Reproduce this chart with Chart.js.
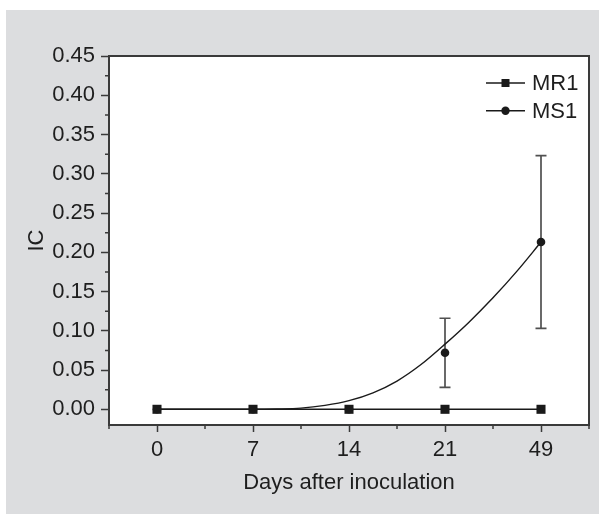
<!DOCTYPE html>
<html>
<head>
<meta charset="utf-8">
<title>IC after inoculation</title>
<script src="https://cdn.jsdelivr.net/npm/chart.js@4.4.1/dist/chart.umd.min.js"></script>
<style>
  html, body { margin: 0; padding: 0; background: #fff; }
  #wrap { width: 599px; height: 514px; position: relative; }
</style>
</head>
<body>
<div id="wrap"><canvas id="icChart"></canvas></div>
<script>
// values
const days = ['0', '7', '14', '21', '49'];
const yTicks = [0, 0.05, 0.10, 0.15, 0.20, 0.25, 0.30, 0.35, 0.40, 0.45];
const mr1 = [0, 0, 0, 0, 0];
const ms1 = [0, 0, 0, 0.072, 0.213];
const ms1Err = [0, 0, 0, 0.044, 0.110];
// fitted curve through MS1 (x = position on the day axis)
const fitX = [0, 1, 1.25, 1.5, 1.75, 2, 2.25, 2.5, 2.75, 3, 3.25, 3.5, 3.75, 4];
const fitY = [0, 0, 0.0004, 0.0015, 0.005, 0.011, 0.021, 0.036, 0.057, 0.083, 0.111, 0.142, 0.176, 0.213];

const FONT = "'Liberation Sans', Arial, Helvetica, sans-serif";
const FONT_SIZE = 22;
const axisColor = '#3a3a3a';
const textColor = '#1e1e1e';
const markColor = '#1a1a1a';

const framePlugin = {
  id: 'frame',
  beforeDraw(chart) {
    const {ctx, chartArea: a, width, height} = chart;
    ctx.save();
    ctx.fillStyle = '#fff';
    ctx.fillRect(0, 0, width, height);
    ctx.fillStyle = '#dcdddf';
    ctx.fillRect(6, 10, width - 6, height - 10);
    ctx.fillStyle = '#fff';
    ctx.fillRect(a.left, a.top, a.right - a.left, a.bottom - a.top);
    ctx.restore();
  },
  beforeDatasetsDraw(chart) {
    // error bars for MS1
    const {ctx} = chart;
    const xs = chart.scales.x, ys = chart.scales.y;
    ctx.save();
    ctx.strokeStyle = '#505050';
    ctx.lineWidth = 1.7;
    ms1.forEach((v, i) => {
      if (!ms1Err[i]) return;
      const x = xs.getPixelForValue(i);
      const yt = ys.getPixelForValue(v + ms1Err[i]);
      const yb = ys.getPixelForValue(v - ms1Err[i]);
      ctx.beginPath();
      ctx.moveTo(x, yt); ctx.lineTo(x, yb);
      ctx.moveTo(x - 5.5, yt); ctx.lineTo(x + 5.5, yt);
      ctx.moveTo(x - 5.5, yb); ctx.lineTo(x + 5.5, yb);
      ctx.stroke();
    });
    ctx.restore();
  },
  afterDraw(chart) {
    const {ctx, chartArea: a} = chart;
    const xs = chart.scales.x, ys = chart.scales.y;
    ctx.save();
    // frame
    ctx.strokeStyle = axisColor;
    ctx.lineWidth = 2;
    ctx.strokeRect(a.left, a.top, a.right - a.left, a.bottom - a.top);
    // minor ticks
    ctx.lineWidth = 1.5;
    ctx.beginPath();
    for (let i = 0; i <= days.length; i++) {
      const x = xs.getPixelForValue(i - 0.5);
      ctx.moveTo(x, a.bottom); ctx.lineTo(x, a.bottom + 4);
    }
    for (let i = 0; i < yTicks.length - 1; i++) {
      const y = ys.getPixelForValue((yTicks[i] + yTicks[i + 1]) / 2);
      ctx.moveTo(a.left, y); ctx.lineTo(a.left - 4, y);
    }
    ctx.stroke();
    // legend
    ctx.font = FONT_SIZE + 'px ' + FONT;
    ctx.textBaseline = 'middle';
    ctx.textAlign = 'left';
    chart.data.datasets.slice(0, 2).forEach((ds, i) => {
      const y = a.top + 27 + i * 27.7;
      const x0 = a.right - 103, x1 = a.right - 64, xm = (x0 + x1) / 2;
      ctx.strokeStyle = markColor;
      ctx.lineWidth = 1.5;
      ctx.beginPath(); ctx.moveTo(x0, y); ctx.lineTo(x1, y); ctx.stroke();
      ctx.fillStyle = markColor;
      if (ds.pointStyle === 'rect') {
        ctx.fillRect(xm - 4, y - 4, 8, 8);
      } else {
        ctx.beginPath(); ctx.arc(xm, y, 4.2, 0, Math.PI * 2); ctx.fill();
      }
      ctx.fillStyle = textColor;
      ctx.fillText(ds.label, a.right - 57, y + 1);
    });
    ctx.restore();
  }
};

const ctx = document.getElementById('icChart').getContext('2d');
new Chart(ctx, {
  type: 'line',
  data: {
    datasets: [
      { label: 'MR1', data: mr1.map((v, i) => ({x: i, y: v})), borderColor: markColor, borderWidth: 1.6,
        pointStyle: 'rect', pointRadius: 6.4, pointBackgroundColor: markColor, pointBorderWidth: 0, tension: 0 },
      { label: 'MS1', data: ms1.map((v, i) => ({x: i, y: v})), showLine: false, borderColor: markColor,
        pointStyle: 'circle', pointRadius: 4.3, pointBackgroundColor: markColor, pointBorderWidth: 0 },
      { label: 'MS1 fit', data: fitX.map((x, i) => ({x: x, y: fitY[i]})), borderColor: markColor, borderWidth: 1.4,
        pointRadius: 0, cubicInterpolationMode: 'monotone' }
    ]
  },
  options: {
    responsive: true,
    maintainAspectRatio: false,
    animation: false,
    layout: { padding: { top: 56, right: 10, left: 0, bottom: 0 } },
    plugins: { legend: { display: false }, tooltip: { enabled: false } },
    scales: {
      x: {
        type: 'linear', min: -0.5, max: 4.5,
        afterBuildTicks: s => { s.ticks = days.map((d, i) => ({value: i})); },
        afterFit: s => { s.height = 89; },
        ticks: { callback: v => days[v], font: {family: FONT, size: FONT_SIZE}, color: textColor, padding: 5, maxRotation: 0 },
        grid: { drawOnChartArea: false, tickLength: 7, tickColor: axisColor, tickWidth: 1.5 },
        border: { display: false },
        title: { display: true, text: 'Days after inoculation', font: {family: FONT, size: FONT_SIZE}, color: textColor,
                 padding: {top: 0, bottom: 18} }
      },
      y: {
        min: -0.02, max: 0.45,
        afterBuildTicks: s => { s.ticks = yTicks.map(v => ({value: v})); },
        afterFit: s => { s.width = 109; },
        ticks: { callback: v => v.toFixed(2), font: {family: FONT, size: FONT_SIZE}, color: textColor, padding: 6 },
        grid: { drawOnChartArea: false, tickLength: 8, tickColor: axisColor, tickWidth: 1.5 },
        border: { display: false },
        title: { display: true, text: 'IC', font: {family: FONT, size: FONT_SIZE}, color: textColor,
                 padding: {top: 24, bottom: 0} }
      }
    }
  },
  plugins: [framePlugin]
});
</script>
</body>
</html>
